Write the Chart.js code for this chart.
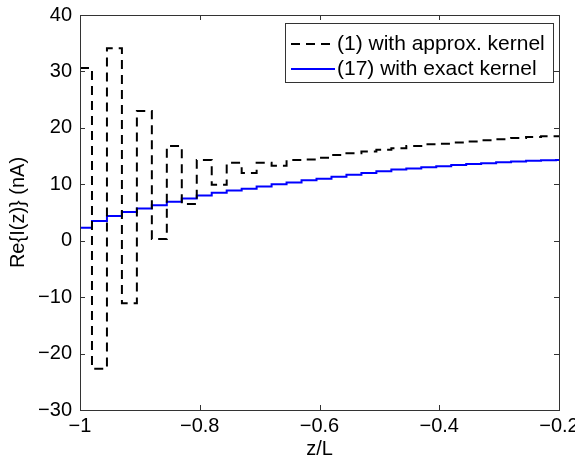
<!DOCTYPE html>
<html>
<head>
<meta charset="utf-8">
<script src="https://cdn.jsdelivr.net/npm/chart.js@4"></script>
<style>
  html, body { margin: 0; padding: 0; background: #fff; }
  #wrap { width: 575px; height: 464px; position: relative; }
</style>
</head>
<body>
<div id="wrap"><canvas id="chart"></canvas></div>
<script>
// segment edges along z/L (step plot, value holds until next edge)
const zEdges = [-1, -0.98, -0.955, -0.93, -0.905, -0.88, -0.855, -0.83, -0.805, -0.78,
  -0.755, -0.73, -0.705, -0.68, -0.655, -0.63, -0.605, -0.58, -0.555, -0.53,
  -0.505, -0.48, -0.455, -0.43, -0.405, -0.38, -0.355, -0.33, -0.305, -0.28,
  -0.255, -0.23, -0.205, -0.2];

// (1) with approx. kernel
const approxKernel = [30.6, -22.7, 34.1, -11.1, 23.0, 0.3, 16.8, 6.5, 14.3, 9.9,
  13.8, 12.0, 13.8, 13.3, 14.3, 14.4, 14.7, 15.2, 15.5, 15.8,
  16.1, 16.4, 16.8, 17.1, 17.2, 17.4, 17.6, 17.8, 18.0, 18.2,
  18.4, 18.5, 18.5];

// (17) with exact kernel
const exactKernel = [2.3, 3.5, 4.4, 5.1, 5.7, 6.3, 6.9, 7.5, 8.0, 8.5,
  8.9, 9.2, 9.6, 10.0, 10.3, 10.7, 11.0, 11.35, 11.7, 12.0,
  12.3, 12.6, 12.8, 13.0, 13.2, 13.4, 13.6, 13.75, 13.9, 14.05,
  14.15, 14.25, 14.3];

const xTicks = [-1, -0.8, -0.6, -0.4, -0.2];
const yTicks = [-30, -20, -10, 0, 10, 20, 30, 40];

const FONT = 'Liberation Sans, Arial, sans-serif';
const AXIS_COLOR = '#333';

// value i holds on [zEdges[i], zEdges[i+1]]; last edge repeats the last value
function toSteps(vals) {
  return zEdges.map((z, i) => ({ x: z, y: vals[Math.min(i, vals.length - 1)] }));
}

function fmt(v) {
  const s = String(parseFloat(v.toFixed(2)));
  return s.replace('-', '\u2212');
}

// MATLAB style box with inward ticks on all four sides
const boxPlugin = {
  id: 'matlabBox',
  afterDatasetsDraw(chart) {
    const { ctx, chartArea: a, scales } = chart;
    const len = 5;
    ctx.save();
    ctx.strokeStyle = AXIS_COLOR;
    ctx.lineWidth = 1;
    ctx.beginPath();
    xTicks.forEach(v => {
      const px = Math.round(scales.x.getPixelForValue(v)) + 0.5;
      ctx.moveTo(px, a.bottom); ctx.lineTo(px, a.bottom - len);
      ctx.moveTo(px, a.top); ctx.lineTo(px, a.top + len);
    });
    yTicks.forEach(v => {
      const py = Math.round(scales.y.getPixelForValue(v)) + 0.5;
      ctx.moveTo(a.left, py); ctx.lineTo(a.left + len, py);
      ctx.moveTo(a.right, py); ctx.lineTo(a.right - len, py);
    });
    ctx.stroke();
    ctx.strokeRect(Math.round(a.left) + 0.5, Math.round(a.top) + 0.5,
      Math.round(a.right - a.left), Math.round(a.bottom - a.top));
    ctx.restore();
  }
};

// legend box in the upper right corner of the axes
const legendPlugin = {
  id: 'boxLegend',
  afterDraw(chart) {
    const { ctx, chartArea: a } = chart;
    const right = a.right - 6, left = right - 268, top = a.top + 8, h = 59;
    ctx.save();
    ctx.fillStyle = '#fff';
    ctx.fillRect(left, top, right - left, h);
    ctx.strokeStyle = AXIS_COLOR;
    ctx.lineWidth = 1;
    ctx.strokeRect(Math.round(left) + 0.5, Math.round(top) + 0.5, Math.round(right - left), h);
    ctx.font = '21px ' + FONT;
    ctx.textBaseline = 'middle';
    chart.data.datasets.forEach((ds, i) => {
      const y = top + 21 + i * 25;
      ctx.strokeStyle = ds.borderColor;
      ctx.lineWidth = ds.borderWidth;
      ctx.setLineDash(ds.borderDash || []);
      ctx.beginPath();
      ctx.moveTo(left + 6, y); ctx.lineTo(left + 50, y);
      ctx.stroke();
      ctx.setLineDash([]);
      ctx.fillStyle = '#000';
      ctx.fillText(ds.label, left + 52, y);
    });
    ctx.restore();
  }
};

new Chart(document.getElementById('chart'), {
  type: 'line',
  data: {
    datasets: [
      {
        label: '(1) with approx. kernel',
        data: toSteps(approxKernel),
        stepped: 'before',
        borderColor: '#000',
        borderWidth: 2,
        borderDash: [9, 6],
        pointRadius: 0,
        fill: false
      },
      {
        label: '(17) with exact kernel',
        data: toSteps(exactKernel),
        stepped: 'before',
        borderColor: '#0000ff',
        borderWidth: 2,
        pointRadius: 0,
        fill: false
      }
    ]
  },
  options: {
    responsive: true,
    maintainAspectRatio: false,
    animation: false,
    layout: { padding: { top: 15, right: 16, left: 0, bottom: 0 } },
    plugins: { legend: { display: false }, tooltip: { enabled: false } },
    scales: {
      x: {
        type: 'linear',
        min: -1, max: -0.2,
        grid: { display: false, drawTicks: false },
        border: { display: false },
        afterBuildTicks: s => { s.ticks = xTicks.map(v => ({ value: v })); },
        afterFit: s => { s.height = 54; s.paddingLeft = 0; s.paddingRight = 0; },
        ticks: {
          color: '#000', padding: 4, maxRotation: 0, autoSkip: false,
          font: { family: FONT, size: 20 },
          callback: v => fmt(v)
        },
        title: {
          display: true, text: 'z/L', color: '#000',
          font: { family: FONT, size: 20 }, padding: { top: 0, bottom: 3 }
        }
      },
      y: {
        min: -30, max: 40,
        grid: { display: false, drawTicks: false },
        border: { display: false },
        afterBuildTicks: s => { s.ticks = yTicks.map(v => ({ value: v })); },
        afterFit: s => { s.width = 80; s.paddingTop = 0; s.paddingBottom = 0; },
        ticks: {
          color: '#000', padding: 8, autoSkip: false,
          font: { family: FONT, size: 20 },
          callback: v => fmt(v)
        },
        title: {
          display: true, text: 'Re{I(z)} (nA)', color: '#000',
          font: { family: FONT, size: 20 }, padding: { top: 6, bottom: 0 }
        }
      }
    }
  },
  plugins: [boxPlugin, legendPlugin]
});
</script>
</body>
</html>
